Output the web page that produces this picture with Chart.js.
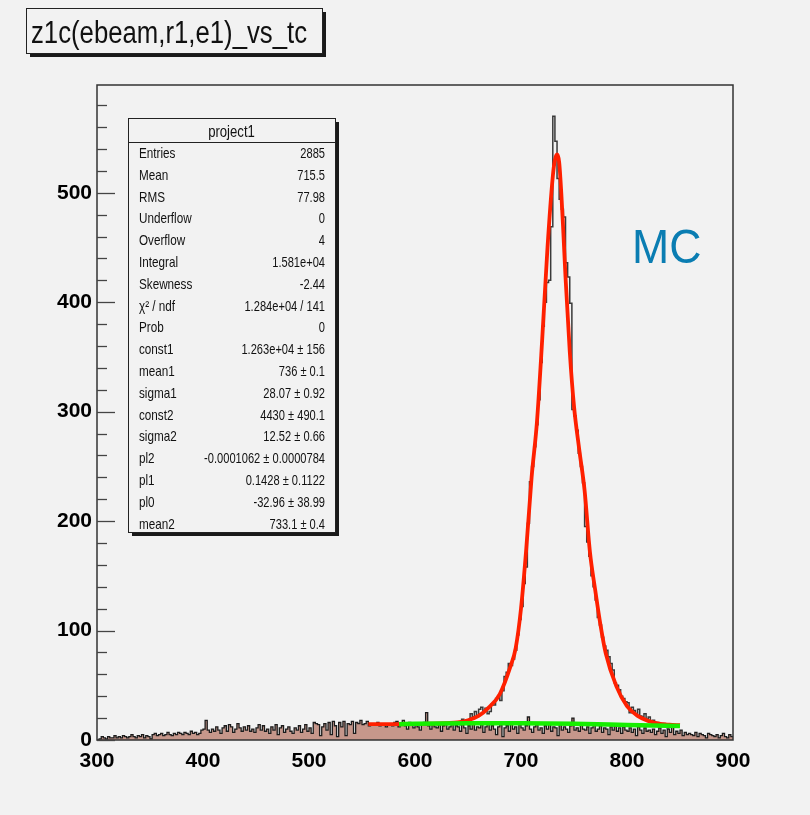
<!DOCTYPE html>
<html>
<head>
<meta charset="utf-8">
<script src="https://cdn.jsdelivr.net/npm/chart.js@4.4.1/dist/chart.umd.min.js"></script>
<style>
  html, body { margin: 0; padding: 0; background: #f2f2f2; }
  #wrap { width: 810px; height: 815px; }
</style>
</head>
<body>
<div id="wrap"><canvas id="c" width="810" height="815"></canvas></div>
<script>
// ---------------- data ----------------
const xMin = 300;
const xMax = 900;
const binWidth = 2;
const yMax = 598.5;
const xTickLabels = [300, 400, 500, 600, 700, 800, 900];
const yTickLabels = [0, 100, 200, 300, 400, 500];

// filled (background) histogram, bins of width 2 from 300 to 900
const bgCounts = [
  0, 1, 3, 2, 1, 3, 2, 2, 4, 2,
  3, 2, 4, 3, 2, 3, 5, 3, 2, 4,
  3, 5, 2, 4, 3, 1, 5, 6, 4, 5,
  6, 4, 5, 7, 5, 4, 6, 5, 7, 6,
  5, 7, 6, 5, 8, 6, 7, 5, 6, 9,
  10, 18, 9, 7, 10, 8, 12, 9, 6, 11,
  13, 8, 14, 12, 7, 10, 15, 11, 8, 12,
  9, 13, 8, 10, 7, 11, 14, 9, 13, 8,
  10, 6, 12, 9, 14, 5, 11, 13, 7, 10,
  12, 8, 6, 11, 9, 13, 7, 10, 14, 8,
  11, 6, 16, 15, 14, 4, 12, 15, 9, 16,
  5, 17, 13, 3, 16, 12, 17, 4, 15, 14,
  17, 6, 16, 15, 18, 14, 15, 17, 13, 14,
  15, 14, 16, 13, 15, 14, 12, 15, 14, 13,
  16, 17, 12, 15, 18, 13, 10, 16, 14, 11,
  15, 12, 9, 14, 16, 25, 13, 10, 15, 12,
  11, 14, 8, 13, 15, 10, 12, 16, 9, 13,
  12, 8, 14, 11, 6, 13, 10, 15, 9, 12,
  11, 14, 7, 12, 16, 9, 13, 10, 5, 12,
  14, 3, 11, 13, 8, 15, 10, 12, 6, 14,
  11, 9, 13, 21, 10, 7, 12, 14, 9, 11,
  6, 13, 10, 15, 8, 12, 11, 4, 14, 9,
  12, 10, 7, 13, 20, 9, 11, 8, 14, 10,
  9, 12, 6, 11, 14, 8, 10, 13, 7, 11,
  10, 5, 12, 9, 13, 8, 11, 6, 12, 9,
  8, 11, 7, 10, 4, 12, 9, 6, 11, 8,
  9, 7, 10, 5, 8, 11, 6, 9, 3, 10,
  7, 12, 5, 8, 6, 9, 4, 7, 5, 6,
  5, 4, 7, 3, 6, 5, 4, 2, 6, 5,
  4, 3, 5, 2, 4, 6, 3, 2, 5, 3
];

// unfilled peak histogram, bins of width 2 from 640 to 840
const peakStart = 640;
const peakCounts = [
  16, 14, 19, 15, 18, 17, 24, 21, 26, 22,
  28, 30, 27, 29, 24, 26, 33, 32, 38, 40,
  36, 45, 58, 62, 70, 68, 74, 82, 96, 110,
  122, 143, 158, 198, 236, 250, 268, 288, 311, 345,
  378, 400, 418, 420, 469, 570, 547, 513, 494, 485,
  478, 436, 423, 399, 302, 296, 283, 262, 250, 235,
  195, 181, 168, 150, 140, 128, 112, 105, 94, 86,
  82, 76, 70, 64, 52, 50, 46, 40, 38, 35,
  34, 25, 30, 27, 24, 28, 22, 21, 24, 19,
  21, 17, 18, 15, 16, 14, 13, 15, 12, 11
];

// total fit (red)
const fitX = [556, 570, 585, 600, 615, 630, 640, 650, 660, 670, 680, 690, 695, 700, 705, 710, 715, 720, 725, 730, 732, 734, 736, 738, 740, 742, 746, 750, 755, 760, 765, 770, 775, 780, 790, 800, 810, 820, 830, 840, 850];
const fitY = [14.5, 14.5, 14.5, 14.6, 15, 15.5, 16, 18, 22, 30, 42, 67, 84, 120, 175, 240, 290, 366, 450, 515, 530, 535, 528, 500, 463, 423, 355, 305, 265, 228, 172, 137, 105, 79, 49, 31, 22, 17.5, 15, 14, 13.5];

// background polynomial (green)
const bkgX = [585, 600, 650, 700, 750, 800, 850];
const bkgY = [14.5, 14.8, 15.2, 15.2, 14.8, 13.8, 12.8];

// stats box
const statsTitle = "project1";
const statsLabels = ["Entries", "Mean", "RMS", "Underflow", "Overflow", "Integral", "Skewness", "\u03C7\u00B2 / ndf", "Prob", "const1", "mean1", "sigma1", "const2", "sigma2", "pl2", "pl1", "pl0", "mean2"];
const statsValues = ["2885", "715.5", "77.98", "0", "4", "1.581e+04", "-2.44", "1.284e+04 / 141", "0", "1.263e+04 \u00B1 156", "736 \u00B1 0.1", "28.07 \u00B1 0.92", "4430 \u00B1 490.1", "12.52 \u00B1 0.66", "-0.0001062 \u00B1 0.0000784", "0.1428 \u00B1 0.1122", "-32.96 \u00B1 38.99", "733.1 \u00B1 0.4"];
const histTitle = "z1c(ebeam,r1,e1)_vs_tc";
const annotation = "MC";

// ---------------- build ----------------
function histPoints(start, counts) {
  const pts = counts.map((v, i) => ({ x: start + i * binWidth, y: v }));
  pts.push({ x: start + counts.length * binWidth, y: counts[counts.length - 1] });
  return pts;
}
const bgPts = histPoints(xMin, bgCounts);
const peakPts = histPoints(peakStart, peakCounts);
const fitPts = fitX.map((x, i) => ({ x, y: fitY[i] }));
const bkgPts = bkgX.map((x, i) => ({ x, y: bkgY[i] }));

const FONT = '"Liberation Sans", Arial, Helvetica, sans-serif';

function scaledText(ctx, text, x, y, sx, align) {
  ctx.save();
  ctx.translate(x, y);
  ctx.scale(sx, 1);
  ctx.textAlign = align;
  ctx.fillText(text, 0, 0);
  ctx.restore();
}

function shadowBox(ctx, x, y, w, h, off) {
  ctx.fillStyle = '#1a1a1a';
  ctx.fillRect(x + off, y + off, w, h);
  ctx.fillStyle = '#f2f2f2';
  ctx.fillRect(x, y, w, h);
  ctx.strokeStyle = '#222';
  ctx.lineWidth = 1;
  ctx.strokeRect(x + 0.5, y + 0.5, w, h);
}

const decor = {
  id: 'decor',
  beforeDraw(chart) {
    const ctx = chart.ctx;
    ctx.save();
    ctx.fillStyle = '#f2f2f2';
    ctx.fillRect(0, 0, chart.width, chart.height);
    ctx.restore();
  },
  afterDraw(chart) {
    const ctx = chart.ctx;
    const a = chart.chartArea;
    const ys = chart.scales.y;
    ctx.save();
    // frame
    ctx.strokeStyle = '#333';
    ctx.lineWidth = 1.5;
    ctx.strokeRect(a.left, a.top, a.right - a.left, a.bottom - a.top);
    // y ticks (inside)
    ctx.lineWidth = 1.3;
    ctx.strokeStyle = '#444';
    for (let v = 0; v <= yMax; v += 20) {
      const py = Math.round(ys.getPixelForValue(v)) + 0.5;
      const len = (v % 100 === 0) ? 18 : 10;
      ctx.beginPath();
      ctx.moveTo(a.left, py);
      ctx.lineTo(a.left + len, py);
      ctx.stroke();
    }
    // title box
    shadowBox(ctx, 26, 8, 296, 45, 4);
    ctx.fillStyle = '#111';
    ctx.font = '31px ' + FONT;
    ctx.textBaseline = 'alphabetic';
    const tw = ctx.measureText(histTitle).width;
    scaledText(ctx, histTitle, 31, 43, 276 / tw, 'left');
    // stats box
    const bx = 128, by = 118, bw = 207, bh = 414;
    shadowBox(ctx, bx, by, bw, bh, 4);
    ctx.strokeStyle = '#222';
    ctx.beginPath();
    ctx.moveTo(bx, 142.5);
    ctx.lineTo(bx + bw, 142.5);
    ctx.stroke();
    ctx.fillStyle = '#111';
    ctx.font = '16px ' + FONT;
    scaledText(ctx, statsTitle, bx + bw / 2, 137, 0.82, 'center');
    ctx.font = '15px ' + FONT;
    statsLabels.forEach((lab, i) => {
      const yy = 158 + i * 21.8;
      scaledText(ctx, lab, 139, yy, 0.78, 'left');
      scaledText(ctx, statsValues[i], 325, yy, 0.74, 'right');
    });
    // MC
    ctx.fillStyle = '#0a7db2';
    ctx.font = '48px ' + FONT;
    scaledText(ctx, annotation, 632, 263, 0.93, 'left');
    ctx.restore();
  }
};

new Chart(document.getElementById('c'), {
  type: 'line',
  data: {
    datasets: [
      { label: 'pol2', data: bkgPts, borderColor: '#16ee00', borderWidth: 4.5, pointRadius: 0, fill: false, cubicInterpolationMode: 'monotone', order: 0 },
      { label: 'fit', data: fitPts, borderColor: '#ff2000', borderWidth: 3.8, pointRadius: 0, fill: false, cubicInterpolationMode: 'monotone', order: 1 },
      { label: 'peak', data: peakPts, borderColor: '#3a3a3a', borderWidth: 1.5, pointRadius: 0, fill: false, stepped: 'before', order: 2 },
      { label: 'bg', data: bgPts, borderColor: '#1c1c1c', borderWidth: 1.3, pointRadius: 0, fill: 'origin', backgroundColor: '#c6978b', stepped: 'before', order: 3 }
    ]
  },
  options: {
    responsive: false,
    animation: false,
    events: [],
    layout: { padding: { left: 0, right: 77, top: 85, bottom: 30 } },
    plugins: { legend: { display: false }, tooltip: { enabled: false } },
    scales: {
      x: {
        type: 'linear', min: xMin, max: xMax,
        grid: { display: false, drawTicks: false },
        border: { display: false },
        afterBuildTicks: (s) => { s.ticks = xTickLabels.map(v => ({ value: v })); },
        afterFit: (s) => { s.height = 45; },
        ticks: { color: '#000', padding: 9, font: { family: FONT, size: 21, weight: 'bold' }, maxRotation: 0, autoSkip: false, callback: (v) => String(v) }
      },
      y: {
        type: 'linear', min: 0, max: yMax,
        grid: { display: false, drawTicks: false },
        border: { display: false },
        afterBuildTicks: (s) => { s.ticks = yTickLabels.map(v => ({ value: v })); },
        afterFit: (s) => { s.width = 97; },
        ticks: { color: '#000', padding: 5, font: { family: FONT, size: 21, weight: 'bold' }, autoSkip: false, callback: (v) => String(v) }
      }
    }
  },
  plugins: [decor]
});
</script>
</body>
</html>
